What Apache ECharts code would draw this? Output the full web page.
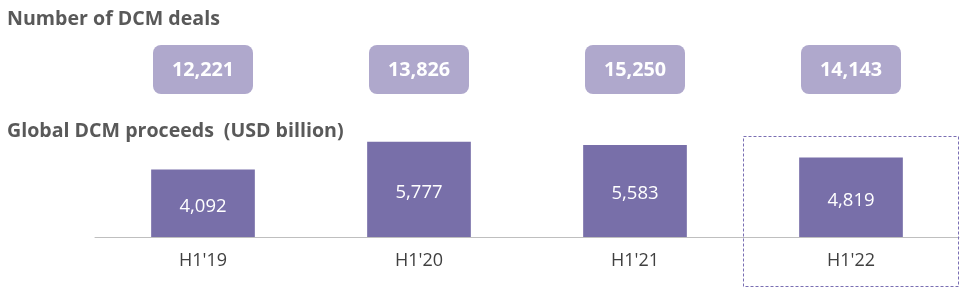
<!DOCTYPE html>
<html>
<head>
<meta charset="utf-8">
<script src="https://cdn.jsdelivr.net/npm/echarts@6/dist/echarts.min.js"></script>
<style>html,body{margin:0;padding:0;background:#fff;}#c{width:975px;height:295px;}</style>
</head>
<body>
<div id="c"></div>
<script>
const categories = ["H1'19", "H1'20", "H1'21", "H1'22"];
const proceeds = [4092, 5777, 5583, 4819];
const deals = [12221, 13826, 15250, 14143];
const highlighted = ["H1'22"];
const titleDeals = "Number of DCM deals";
const titleProceeds = "Global DCM proceeds\u2002(USD billion)";

const FONT = "'Open Sans', 'Noto Sans', sans-serif";
const fmt = v => v.toLocaleString('en-US');

const chart = echarts.init(document.getElementById('c'), null, {renderer: 'canvas'});
chart.setOption({
  animation: false,
  backgroundColor: '#ffffff',
  title: [
    {text: titleDeals, left: 7, top: 9, padding: 0,
     textStyle: {fontFamily: FONT, fontSize: 19.6, fontWeight: 'bold', color: '#595959'}},
    {text: titleProceeds, left: 7, top: 121, padding: 0,
     textStyle: {fontFamily: FONT, fontSize: 19.6, fontWeight: 'bold', color: '#595959'}}
  ],
  grid: {left: 95, right: 16, top: 138, bottom: 58},
  xAxis: {
    type: 'category', data: categories,
    axisLine: {lineStyle: {color: '#bfbfbf', width: 1}},
    axisTick: {show: false},
    axisLabel: {fontFamily: FONT, fontSize: 18, color: '#404040', margin: 15}
  },
  yAxis: {type: 'value', min: 0, max: 6000, show: false, splitLine: {show: false}},
  series: [
    {
      type: 'bar', data: proceeds, barWidth: '48%',
      itemStyle: {color: '#786fa9'},
      label: {show: true, position: 'inside', offset: [0, 3], formatter: p => fmt(p.value),
              fontFamily: FONT, fontSize: 18.5, color: '#ffffff'}
    },
    {
      type: 'custom',
      data: categories.map((c, i) => [i, deals[i]]),
      renderItem: function (params, api) {
        const i = api.value(0);
        const x = api.coord([i, 0])[0];
        const children = [
          {type: 'rect', shape: {x: x - 50, y: 45, width: 100, height: 49, r: 8},
           style: {fill: '#afa8cc'}},
          {type: 'text', style: {text: fmt(api.value(1)), x: x, y: 70, align: 'center',
            verticalAlign: 'middle', fill: '#ffffff', font: 'bold 19.8px ' + FONT}}
        ];
        if (highlighted.indexOf(categories[i]) >= 0) {
          const band = api.size([1, 0])[0];
          children.push({type: 'rect', shape: {x: x - band / 2 + 0.5, y: 136.5, width: band - 1, height: 150},
            style: {fill: 'none', stroke: '#7a6fb3', lineWidth: 1, lineDash: [3, 2]}});
        }
        return {type: 'group', children: children};
      },
      z: 5
    }
  ]
});
</script>
</body>
</html>
